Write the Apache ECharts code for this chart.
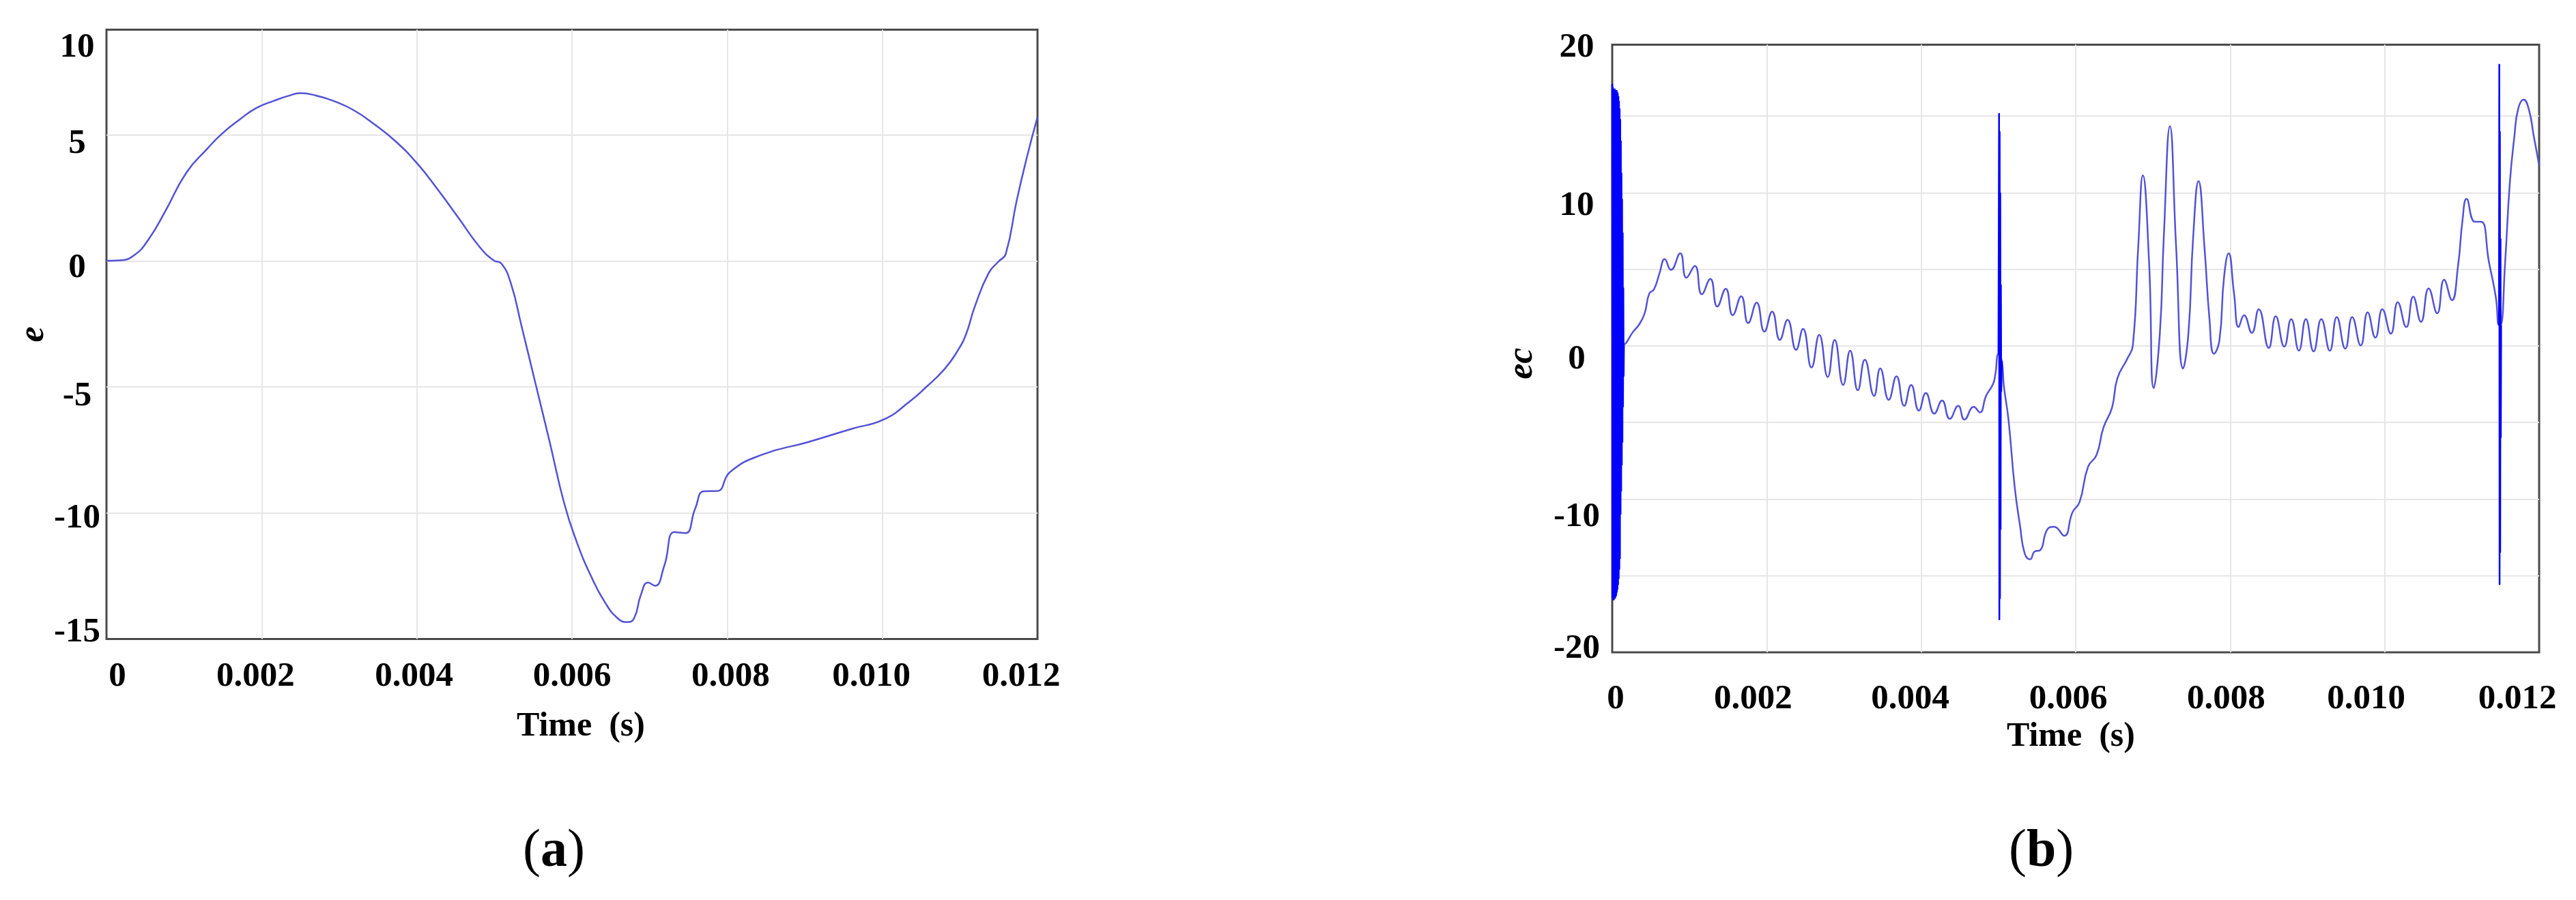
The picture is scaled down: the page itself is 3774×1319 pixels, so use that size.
<!DOCTYPE html>
<html>
<head>
<meta charset="utf-8">
<title>e and ec versus time</title>
<script src="https://cdn.jsdelivr.net/npm/echarts@6.0.0/dist/echarts.min.js"></script>
<style>
  html, body { margin: 0; padding: 0; background: #fff; }
  #chart { width: 3774px; height: 1319px; }
</style>
</head>
<body>
<div id="chart"></div>
<script>
  // tick labels
  const timeTicks = ['0', '0.002', '0.004', '0.006', '0.008', '0.010', '0.012'];
  const eTicks = ['-15', '-10', '-5', '0', '5', '10'];
  const ecTicks = ['-20', '-10', '0', '10', '20'];

  // (a) e versus time, [t (s), e]
  const eCurve = [
    [0, 0], [0.00018, 0.02], [0.00036, 0.23], [0.00054, 0.84], [0.00076, 1.98], [0.00103, 3.5],
    [0.0013, 4.45], [0.00148, 5.02], [0.00171, 5.59], [0.00193, 6.06], [0.00216, 6.35], [0.00234, 6.54],
    [0.0025, 6.65], [0.0027, 6.56], [0.00292, 6.35], [0.00319, 5.97], [0.00346, 5.4], [0.00373, 4.73],
    [0.004, 3.88], [0.00427, 2.83], [0.00454, 1.69], [0.00481, 0.55], [0.00499, 0.02], [0.00509, -0.11],
    [0.00521, -0.87], [0.00535, -2.59], [0.00553, -4.87], [0.00571, -7.15], [0.0059, -9.62], [0.00606, -11.14],
    [0.00624, -12.47], [0.00642, -13.52], [0.00659, -14.18], [0.00671, -14.33], [0.0068, -14.18], [0.00689, -13.23],
    [0.00698, -12.76], [0.00707, -12.89], [0.00719, -12.09], [0.00732, -10.76], [0.00746, -10.8], [0.00759, -9.81],
    [0.0077, -9.14], [0.00787, -9.13], [0.00804, -8.37], [0.00845, -7.69], [0.00904, -7.19], [0.00962, -6.65],
    [0.01002, -6.29], [0.01036, -5.56], [0.01056, -5.02], [0.0108, -4.3], [0.01097, -3.57], [0.01108, -2.9],
    [0.01119, -1.83], [0.01137, -0.49], [0.0115, -0.02], [0.01159, 0.27], [0.01173, 2.36], [0.01186, 4.07],
    [0.012, 5.7]
  ];

  // (b) ec versus time, the smooth part
  const ecCurve = [
    [0.000152, 0.1], [0.00018, 0.2], [0.00026, 0.85], [0.00035, 1.41], [0.00042, 2.13], [0.00048, 3.42],
    [0.00054, 3.68], [0.00061, 4.7], [0.00068, 5.66], [0.00076, 4.96], [0.00088, 6.04], [0.00096, 4.45],
    [0.00107, 5.22], [0.00116, 3.37], [0.00127, 4.37], [0.00136, 2.57], [0.00147, 3.73], [0.00156, 2.0],
    [0.00167, 3.24], [0.00176, 1.49], [0.00187, 2.83], [0.00197, 0.93], [0.00207, 2.24], [0.00217, 0.39],
    [0.00227, 1.7], [0.00238, -0.26], [0.00247, 1.11], [0.00258, -1.41], [0.00268, 0.72], [0.00279, -2.03],
    [0.00288, 0.39], [0.00299, -2.55], [0.00308, -0.31], [0.00318, -2.9], [0.00327, -0.9], [0.00339, -3.26],
    [0.00347, -1.47], [0.00358, -3.52], [0.00368, -1.98], [0.00378, -3.91], [0.00387, -2.55], [0.00397, -4.22],
    [0.00406, -3.08], [0.00417, -4.42], [0.00427, -3.57], [0.00437, -4.76], [0.00448, -3.91], [0.00456, -4.81],
    [0.00468, -3.98], [0.00476, -4.34], [0.00484, -3.26], [0.00493, -2.49], [0.00496, -1.85], [0.005, -0.55],
    [0.005045, -1.0], [0.00507, -2.6], [0.00513, -4.81], [0.00521, -9.18], [0.00528, -11.75], [0.00534, -13.55],
    [0.00541, -13.93], [0.00547, -13.42], [0.00554, -13.34], [0.00563, -12.0], [0.00572, -11.8], [0.00585, -12.39],
    [0.00596, -10.85], [0.00605, -10.2], [0.00616, -7.89], [0.00627, -7.12], [0.00636, -5.32], [0.00647, -4.04],
    [0.00654, -2.11], [0.00667, -0.82], [0.00674, 0.03], [0.00681, 6.5], [0.00687, 11.13], [0.00695, 5.48],
    [0.00701, -2.75], [0.00709, 0.85], [0.00714, 7.02], [0.00722, 14.34], [0.0073, 6.5], [0.00739, -1.47],
    [0.00746, 0.85], [0.00752, 7.02], [0.00759, 10.75], [0.00767, 6.25], [0.00773, 1.88], [0.00779, -0.51],
    [0.00786, 0.33], [0.00792, 4.45], [0.00798, 6.04], [0.00805, 3.42], [0.00811, 1.23], [0.00818, 2.0],
    [0.00828, 0.85], [0.00837, 2.39], [0.0085, -0.13], [0.00859, 1.93], [0.0087, -0.05], [0.00879, 1.75],
    [0.00889, -0.31], [0.00898, 1.75], [0.00908, -0.36], [0.00918, 1.75], [0.00929, -0.31], [0.00938, 1.88],
    [0.00949, -0.18], [0.00958, 1.88], [0.00969, 0.03], [0.00978, 2.19], [0.00988, 0.54], [0.00997, 2.39],
    [0.01008, 0.8], [0.01017, 2.85], [0.01028, 1.23], [0.01037, 3.21], [0.01047, 1.57], [0.01057, 3.75],
    [0.01068, 2.13], [0.01077, 4.32], [0.01087, 2.98], [0.01095, 5.22], [0.01101, 8.3], [0.01106, 9.59],
    [0.01117, 8.1], [0.01125, 8.1], [0.01135, 5.48], [0.01144, 3.16], [0.01148, 1.36], [0.0115, 1.36],
    [0.01156, 5.48], [0.01162, 10.6], [0.01168, 13.7], [0.01173, 15.5], [0.0118, 16.07], [0.01187, 15.37],
    [0.01193, 13.7], [0.012, 11.8]
  ];

  // (b) switching transients, dense oscillation read as envelope peaks
  const ecBurstStart = [
    [0, 17.1], [0.000004, -16.4], [0.000008, 16.9], [0.000012, -16.6], [0.000016, 16.8], [0.00002, -16.6],
    [0.000024, 16.8], [0.000028, -16.5], [0.000032, 16.8], [0.000036, -16.5], [0.00004, 16.7], [0.000044, -16.4],
    [0.000048, 16.7], [0.000052, -16.3], [0.000056, 16.7], [0.00006, -16.1], [0.000064, 16.6], [0.000068, -15.9],
    [0.000072, 16.5], [0.000076, -15.6], [0.00008, 16.3], [0.000084, -15.2], [0.000088, 16.0], [0.000092, -14.6],
    [0.000096, 15.5], [0.0001, -13.9], [0.000104, 14.8], [0.000108, -11.0], [0.000112, 13.4], [0.000116, -9.5],
    [0.00012, 11.3], [0.000124, -7.8], [0.000128, 9.6], [0.000132, -6.3], [0.000136, 7.4], [0.00014, -4.0],
    [0.000144, 3.8], [0.000148, -2.0], [0.000152, 0.1]
  ];
  const ecBurstMid = [
    [0.005, -0.55], [0.005008, 15.2], [0.005012, -17.9], [0.005016, 14.0], [0.00502, -16.5], [0.005024, 10.0],
    [0.005028, -12.0], [0.005032, 4.0], [0.005036, -3.0], [0.005045, -1.0]
  ];
  const ecBurstEnd = [
    [0.01148, 1.36], [0.011484, 18.4], [0.011488, -15.6], [0.011492, 14.0], [0.011496, -13.5], [0.0115, 7.0],
    [0.011504, -6.0], [0.011508, 1.36]
  ];

  const FONT = 'Liberation Serif';
  const LINE = '#5252d6';
  const BURST = '#0000ff';

  function tokenStyle(pad) {
    return { fontFamily: FONT, fontWeight: 'bold', fontSize: 51, color: '#000', padding: pad };
  }
  function richFrom(pads) {
    const r = {};
    pads.forEach(function (p, i) { r['k' + i] = tokenStyle(p); });
    return r;
  }
  // small nudges so the numbers sit where they sit in the figure
  const eYPads = [[0, 0, 20, 0], [16, 0, 0, 0], [28, 0, 0, 0], [22, 0, 0, 0], [26, 0, 0, 0], [53, 0, 0, 0]];
  const ecYPads = [[0, 0, 11, 0], [53, 0, 0, 0], [39, 0, 0, 0], [38, 0, 0, 0], [9, 0, 0, 0]];
  const eXPads = [[0, 0, 0, 32], [0, 18, 0, 0], [0, 8, 0, 0], [0, 0, 0, 0], [0, 0, 0, 10], [0, 32, 0, 0], [0, 48, 0, 0]];
  const ecXPads = [[0, 0, 0, 10], [0, 40, 0, 0], [0, 32, 0, 0], [0, 22, 0, 0], [0, 12, 0, 0], [0, 54, 0, 0], [0, 64, 0, 0]];

  function timeLabel(v) {
    const i = Math.round(v / 0.002);
    return timeTicks[i] ? '{k' + i + '|' + timeTicks[i] + '}' : '';
  }
  function yLabel(list) {
    return function (v) {
      const lab = String(Math.round(v / 5) * 5);
      const i = list.indexOf(lab);
      return i < 0 ? '' : '{k' + i + '|' + lab + '}';
    };
  }

  // inner grid only, so the dark frame is not painted over at the edges
  const splitLine = { show: true, showMinLine: false, showMaxLine: false, lineStyle: { color: '#e6e6e6', width: 2 } };
  const nameStyle = { fontFamily: FONT, fontWeight: 'bold', fontSize: 50, color: '#000' };
  const yNameStyle = { fontFamily: FONT, fontWeight: 'bold', fontStyle: 'italic', fontSize: 52, color: '#000' };

  function timeAxis(idx, margin, gap, namePad, pads) {
    return {
      type: 'value', gridIndex: idx, min: 0, max: 0.012, interval: 0.002,
      name: 'Time  (s)', nameLocation: 'middle', nameGap: gap,
      nameTextStyle: Object.assign({ padding: namePad }, nameStyle),
      axisLine: { show: false }, axisTick: { show: false },
      axisLabel: { margin: margin, formatter: timeLabel, rich: richFrom(pads), showMinLabel: true, showMaxLabel: true },
      splitLine: splitLine
    };
  }

  const caption = {
    p: { fontFamily: FONT, fontSize: 78, color: '#000' },
    b: { fontFamily: FONT, fontSize: 78, fontWeight: 'bold', color: '#000' }
  };

  const chart = echarts.init(document.getElementById('chart'));
  chart.setOption({
    animation: false,
    backgroundColor: '#fff',
    grid: [
      { left: 156, top: 43.5, width: 1364, height: 893, show: true, borderColor: '#4a4a4a', borderWidth: 3, backgroundColor: '#fff' },
      { left: 2362, top: 65.5, width: 1358, height: 890.5, show: true, borderColor: '#4a4a4a', borderWidth: 3, backgroundColor: '#fff' }
    ],
    xAxis: [
      timeAxis(0, 30, 104, [0, 0, 0, 26], eXPads),
      timeAxis(1, 43, 86, [0, 14, 0, 0], ecXPads)
    ],
    yAxis: [
      {
        type: 'value', gridIndex: 0, min: -15, max: 9.17, interval: 5,
        name: 'e', nameLocation: 'middle', nameGap: 52, nameTextStyle: yNameStyle,
        axisLine: { show: false }, axisTick: { show: false },
        axisLabel: { margin: 43, align: 'center', formatter: yLabel(eTicks), rich: richFrom(eYPads), showMinLabel: true, showMaxLabel: true },
        splitLine: splitLine
      },
      {
        type: 'value', gridIndex: 1, min: -20, max: 19.66, interval: 5,
        name: 'ec', nameLocation: 'middle', nameGap: 105,
        nameTextStyle: Object.assign({ padding: [0, 44, 0, 0] }, yNameStyle),
        axisLine: { show: false }, axisTick: { show: false },
        axisLabel: { margin: 52, align: 'center', formatter: yLabel(ecTicks), rich: richFrom(ecYPads), showMinLabel: true, showMaxLabel: true },
        splitLine: splitLine
      }
    ],
    series: [
      { type: 'line', xAxisIndex: 0, yAxisIndex: 0, data: eCurve, smooth: 0.5, showSymbol: false, lineStyle: { color: LINE, width: 2.5 }, itemStyle: { color: LINE } },
      { type: 'line', xAxisIndex: 1, yAxisIndex: 1, data: ecCurve, smooth: 0.5, showSymbol: false, lineStyle: { color: LINE, width: 2.5 }, itemStyle: { color: LINE } },
      { type: 'line', xAxisIndex: 1, yAxisIndex: 1, data: ecBurstStart, showSymbol: false, lineStyle: { color: BURST, width: 2.5 }, itemStyle: { color: BURST } },
      { type: 'line', xAxisIndex: 1, yAxisIndex: 1, data: ecBurstMid, showSymbol: false, lineStyle: { color: BURST, width: 2.5 }, itemStyle: { color: BURST } },
      { type: 'line', xAxisIndex: 1, yAxisIndex: 1, data: ecBurstEnd, showSymbol: false, lineStyle: { color: BURST, width: 2.5 }, itemStyle: { color: BURST } }
    ],
    graphic: [
      { type: 'text', left: 766, top: 1210, style: { text: '{p|(}{b|a}{p|)}', rich: caption } },
      { type: 'text', left: 2943, top: 1210, style: { text: '{p|(}{b|b}{p|)}', rich: caption } }
    ]
  });
</script>
</body>
</html>
